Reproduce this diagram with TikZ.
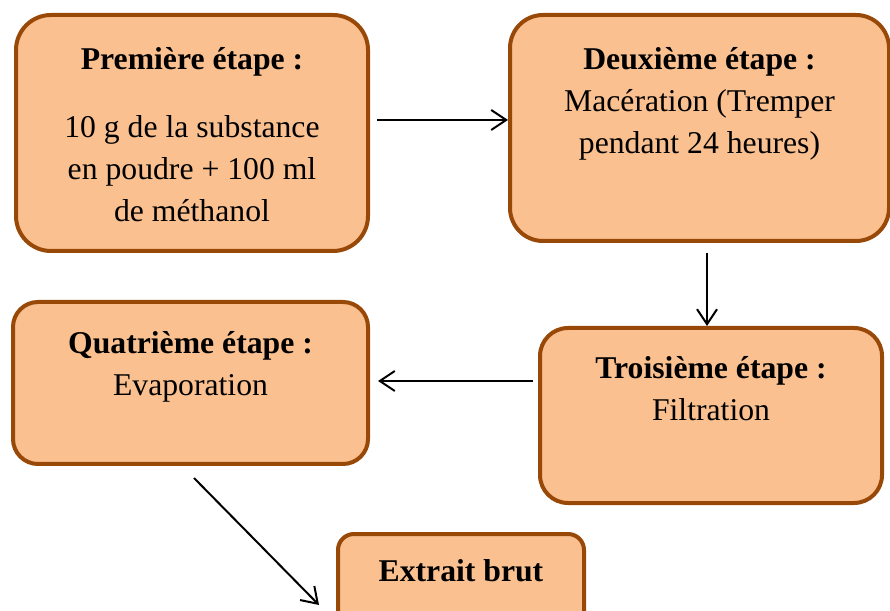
\documentclass[tikz,border=0pt]{standalone}
\usepackage{fontspec}
\setmainfont{Liberation Serif}
\usetikzlibrary{arrows.meta,calc}
\definecolor{stepfill}{HTML}{FAC090}
\definecolor{stepborder}{HTML}{984807}

\begin{document}
\begin{tikzpicture}[x=1pt,y=1pt,
    stepbox/.style={draw=stepborder, fill=stepfill, line width=4pt, inner sep=0pt,
      align=flush center, font=\fontsize{31.7pt}{42pt}\selectfont},
    flow/.style={line width=2pt, -{Straight Barb[length=15pt,width=20pt]}}]
    % Frame
    \useasboundingbox (0,0) rectangle (890,610);
    \clip (0,0) rectangle (890,610);
    % Steps
    \node[stepbox, rounded corners=35pt, text width=352pt, text height=55pt, text depth=181pt]
      (first) at (192,477) {\textbf{Première étape :}\\[26pt] 10 g de la substance\\ en poudre + 100 ml\\ de méthanol};
    \node[stepbox, rounded corners=33pt, text width=379pt, text height=55pt, text depth=171pt]
      (second) at (699.5,482) {\textbf{Deuxième étape :}\\ Macération (Tremper\\ pendant 24 heures)};
    \node[stepbox, rounded corners=28pt, text width=342pt, text height=51pt, text depth=124pt]
      (third) at (711,194.5) {\textbf{Troisième étape :}\\ Filtration};
    \node[stepbox, rounded corners=25pt, text width=355pt, text height=52pt, text depth=110pt]
      (fourth) at (190.5,227) {\textbf{Quatrième étape :}\\ Evaporation};
    \node[stepbox, rounded corners=16pt, text width=246pt, text height=47pt, text depth=59pt]
      (extract) at (461,23) {\textbf{Extrait brut}};
    % Arrows
    \draw[flow] ($(first.east |- second.west)+(7,8)$) -- ($(second.west)+(0,8)$);
    \draw[flow] ($(second.south -| third.north)+(-4,-10)$) -- ($(third.north)+(-4,0)$);
    \draw[flow] ($(third.west |- fourth.east)+(-5,2)$) -- ($(fourth.east)+(8,2)$);
    \draw[flow] ($(fourth.south)+(3.5,-12)$) -- ($(extract.north west)+(-17,-73)$);
\end{tikzpicture}
\end{document}
